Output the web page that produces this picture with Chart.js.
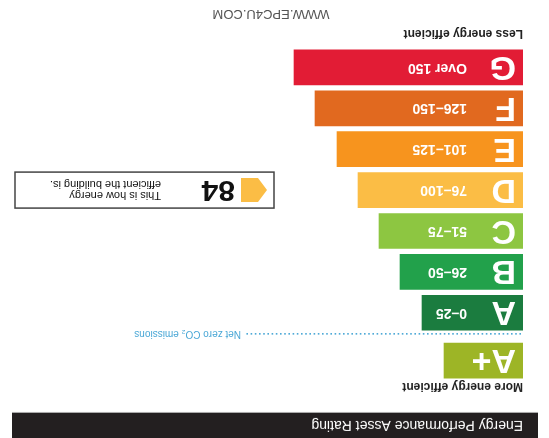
<!DOCTYPE html>
<html lang="en">
  <head>
    <meta charset="UTF-8" />
    <script src="https://cdn.jsdelivr.net/npm/chart.js@4"></script>
    <title>EPC</title>
    <style>
      body { margin: 0; background: #fff; }
      /* the reference is photographed upside down */
      #wrap { width: 549px; height: 438px; transform: rotate(180deg); }
    </style>
  </head>
  <body>
    <div id="wrap"><canvas id="chart" width="549" height="438"></canvas></div>

    <script>
      // data
      const bands = ["A+", "A", "B", "C", "D", "E", "F", "G"];
      const ranges = ["", "0–25", "26–50", "51–75", "76–100", "101–125", "126–150", "Over 150"];
      const barLengths = [79, 101, 123, 144, 165, 186, 208, 229];
      const rating = 84;
      const ratingBand = "D";

      const colors = ["#9db526", "#1b7c3f", "#22a14b", "#8dc641", "#fbbd45", "#f7941e", "#e1691f", "#e21c35"];
      const FONT = "'Liberation Sans', Arial, sans-serif";

      // A+ sits a bit apart from the rest (the net zero line goes in between)
      const slot = (i) => (i === 0 ? 0 : i + 0.17);

      const labels = {
        id: "labels",
        afterDatasetsDraw(chart) {
          const c = chart.ctx;
          const bars = chart.getDatasetMeta(0).data;
          c.save();

          // header band
          c.fillStyle = "#231f20";
          c.fillRect(11, 0, 526, 25);
          c.fillStyle = "#b5b5b5";
          c.fillRect(11, 25, 526, 1);
          c.fillStyle = "#fff";
          c.font = "14px " + FONT;
          c.textBaseline = "middle";
          c.fillText("Energy Performance Asset Rating", 26, 13);

          c.fillStyle = "#222";
          c.font = "bold 12px " + FONT;
          c.fillText("More energy efficient", 26, 52);

          // letters and ranges on bars
          bars.forEach((b, i) => {
            const left = b.base;
            c.fillStyle = "#fff";
            c.font = "bold 34px " + FONT;
            c.fillText(bands[i], left + 7, b.y + 1);
            if (ranges[i]) {
              c.font = "bold 14px " + FONT;
              c.fillText(ranges[i], left + 56, b.y);
            }
          });

          // net zero dotted line
          const yz = (bars[0].y + bars[1].y) / 2 + 3;
          c.fillStyle = "#49a7d6";
          for (let x = 28; x < 302; x += 4.2) {
            c.fillRect(x, yz - 1, 1.6, 1.6);
          }
          c.font = "10px " + FONT;
          c.fillText("Net zero CO\u2082 emissions", 308, yz);

          c.fillStyle = "#222";
          c.font = "bold 12px " + FONT;
          c.fillText("Less energy efficient", 26, 405);

          c.fillStyle = "#555";
          c.font = "13px " + FONT;
          c.textAlign = "center";
          c.fillText("WWW.EPC4U.COM", 278, 424);
          c.textAlign = "left";

          // current rating box, level with its band
          const rb = bars[bands.indexOf(ratingBand)];
          const top = rb.y - 18, h = 36;
          c.strokeStyle = "#444";
          c.lineWidth = 1.5;
          c.strokeRect(275, top, 259, h);
          c.fillStyle = colors[bands.indexOf(ratingBand)];
          c.beginPath();
          c.moveTo(282, rb.y);
          c.lineTo(291, top + 6);
          c.lineTo(308, top + 6);
          c.lineTo(308, top + h - 6);
          c.lineTo(291, top + h - 6);
          c.closePath();
          c.fill();
          c.fillStyle = "#111";
          c.font = "bold 30px " + FONT;
          c.fillText(String(rating), 314, rb.y + 1);
          c.font = "11px " + FONT;
          c.fillText("This is how energy", 388, rb.y - 5);
          c.fillText("efficient the building is.", 388, rb.y + 6);

          c.restore();
        },
      };

      const ctx = document.getElementById("chart").getContext("2d");
      const myChart = new Chart(ctx, {
        type: "bar",
        data: {
          datasets: [
            {
              data: barLengths.map((v, i) => ({ x: v, y: slot(i) })),
              backgroundColor: colors,
              borderWidth: 0,
              barThickness: 35,
            },
          ],
        },
        options: {
          indexAxis: "y",
          responsive: false,
          animation: false,
          devicePixelRatio: 1,
          layout: { padding: { left: 26, right: 15, top: 57, bottom: 47 } },
          plugins: { legend: { display: false }, tooltip: { enabled: false } },
          scales: {
            x: { type: "linear", min: 0, max: 508, display: false },
            y: { type: "linear", min: -0.5, max: 7.67, reverse: true, offset: false, display: false },
          },
        },
        plugins: [labels],
      });
    </script>
  </body>
</html>
